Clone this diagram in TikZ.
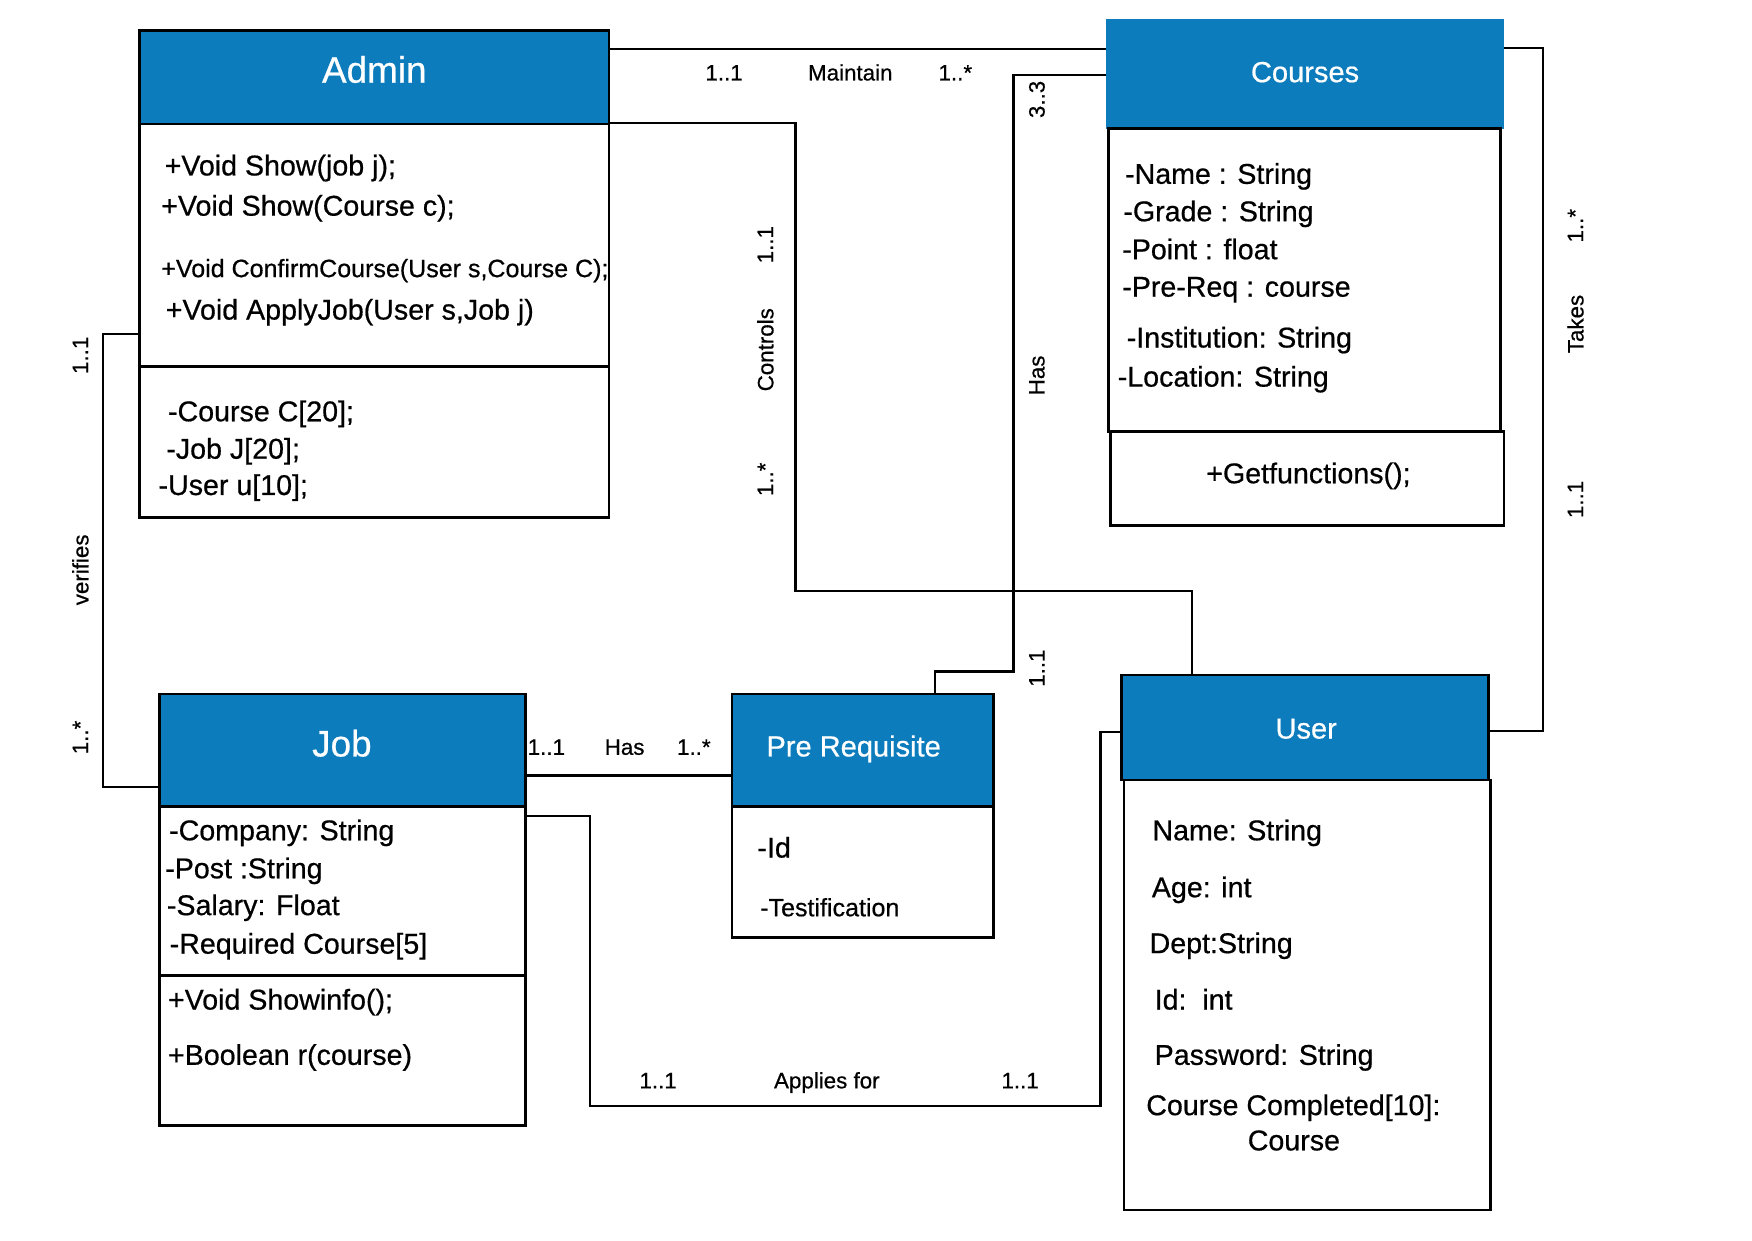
\documentclass[tikz,border=0pt]{standalone}
\usepackage{fontspec}
\setmainfont{Liberation Sans}[FakeBold=0.6]
\usetikzlibrary{fit}
\definecolor{hdr}{RGB}{13,124,189}
\begin{document}
\begin{tikzpicture}[x=0.5pt,y=-0.5pt,
  box/.style={draw=black, line width=1.2pt, inner sep=0pt},
  hdrbox/.style={box, fill=hdr},
  conn/.style={draw=black, line width=1pt},
  txt/.style={inner sep=0pt, anchor=base west, font=\fontsize{12.8pt}{15pt}\selectfont},
  smalltxt/.style={txt, font=\fontsize{11.2pt}{13pt}\selectfont},
  ctxt/.style={txt, anchor=base},
  lbl/.style={inner sep=0pt, anchor=base, font=\fontsize{10pt}{12pt}\selectfont},
  vlbl/.style={inner sep=0pt, rotate=90, font=\fontsize{10pt}{12pt}\selectfont},
  bigtitle/.style={inner sep=0pt, anchor=base, text=white, font=\fontsize{16.5pt}{20pt}\selectfont},
  title/.style={inner sep=0pt, anchor=base, text=white, font=\fontsize{13pt}{16pt}\selectfont}
]
\useasboundingbox (0,0) rectangle (1568,1110);

% ---------- Admin ----------
\node[hdrbox, fit={(125,27) (545,111)}] (adminH) {};
\node[box, fit={(125,111) (545,328)}] (adminM) {};
\node[box, fit={(125,328) (545,463)}] (adminA) {};
\node[bigtitle] (adminT) at (335,74) {Admin};
\node[txt] (am1) at (147,157) {+Void Show(job j);};
\node[txt] (am2) at (144,193) {+Void Show(Course c);};
\node[smalltxt] (am3) at (144,248) {+Void ConfirmCourse(User s,Course C);};
\node[txt] (am4) at (148,286) {+Void ApplyJob(User s,Job j)};
\node[txt] (aa1) at (150,377) {-Course C[20];};
\node[txt] (aa2) at (148.5,410.5) {-Job J[20];};
\node[txt] (aa3) at (141.5,443) {-User u[10];};

% ---------- Courses ----------
\node[inner sep=0pt, fill=hdr, fit={(990,17) (1346,115)}] (coursesH) {};
\node[box, fit={(992,115) (1343,386)}] (coursesA) {};
\node[box, fit={(994,386) (1346,470)}] (coursesM) {};
\node[title] (coursesT) at (1168,73.5) {Courses};
\node[txt] (ca1) at (1006.5,164.5) {-Name : String};
\node[txt] (ca2) at (1005,198) {-Grade : String};
\node[txt] (ca3) at (1004,232) {-Point : float};
\node[txt] (ca4) at (1004,265.5) {-Pre-Req : course};
\node[txt] (ca5) at (1008,311) {-Institution: String};
\node[txt] (ca6) at (1000,346) {-Location: String};
\node[ctxt] (cm1) at (1171,432.5) {+Getfunctions();};

% ---------- Job ----------
\node[hdrbox, fit={(143,621) (470,722)}] (jobH) {};
\node[box, fit={(143,722) (470,873)}] (jobA) {};
\node[box, fit={(143,873) (470,1007)}] (jobM) {};
\node[bigtitle] (jobT) at (306,677) {Job};
\node[txt] (ja1) at (151,752) {-Company: String};
\node[txt] (ja2) at (147.5,786) {-Post :String};
\node[txt] (ja3) at (149,819) {-Salary: Float};
\node[txt] (ja4) at (151.5,853.5) {-Required Course[5]};
\node[txt] (jm1) at (150,903.5) {+Void Showinfo();};
\node[txt] (jm2) at (150,953) {+Boolean r(course)};

% ---------- Pre Requisite ----------
\node[hdrbox, fit={(655,621) (889,722)}] (preH) {};
\node[box, fit={(655,722) (889,839)}] (preA) {};
\node[title] (preT) at (764,677) {Pre Requisite};
\node[txt] (pa1) at (677.5,767.5) {-Id};
\node[smalltxt] (pa2) at (680,820) {-Testification};

% ---------- User ----------
\node[hdrbox, fit={(1004,604) (1332,698)}] (userH) {};
\node[box, fit={(1006,698) (1334,1083)}] (userA) {};
\node[title] (userT) at (1169,661) {User};
\node[txt] (ua1) at (1031,752) {Name: String};
\node[txt] (ua2) at (1030.5,803) {Age: int};
\node[txt] (ua3) at (1028.5,853) {Dept:String};
\node[txt] (ua4) at (1033,903.5) {Id:\ \ int};
\node[txt] (ua5) at (1033,953) {Password: String};
\node[txt] (ua6) at (1025.5,998) {Course Completed[10]:};
\node[ctxt] (ua7) at (1158,1029.5) {Course};

% ---------- bend points ----------
\coordinate (tk) at (1381,654);
\coordinate (ct1) at (712,529);
\coordinate (ct2) at (1067,529);
\coordinate (hs1) at (907,601);
\coordinate (hs2) at (837,601);
\coordinate (vf) at (92,704);
\coordinate (ap1) at (528,990);
\coordinate (ap2) at (985,655);

% ---------- connectors ----------
% Maintain
\draw[conn] (adminH.east |- 0,44) -- (coursesH.west |- 0,44);
% Takes
\draw[conn] (coursesH.east |- 0,43) -| (tk) -- (userH.east |- tk);
% Controls
\draw[conn] (adminM.north east) -| (ct1) -- (ct2) -- (userH.north -| ct2);
% Has (Courses - Pre Requisite)
\draw[conn] (coursesH.west |- 0,67) -| (hs1) -- (hs2) -- (preH.north -| hs2);
% verifies
\draw[conn] (adminM.west |- 0,299) -| (vf) -- (jobH.west |- vf);
% Has (Job - Pre Requisite)
\draw[conn] (jobH.east |- 0,694) -- (preH.west |- 0,694);
% Applies for
\draw[conn] (jobA.east |- 0,730) -| (ap1) -| (ap2) -- (userH.west |- ap2);

% ---------- labels ----------
\node[lbl] (lm1) at (648,72) {1..1};
\node[lbl] (lm2) at (761,72) {Maintain};
\node[lbl] (lm3) at (855,72) {1..*};

\node[vlbl] (lh1) at (928,89) {3..3};
\node[vlbl] (lh2) at (928,336) {Has};
\node[vlbl] (lh3) at (928,598) {1..1};

\node[vlbl] (lt1) at (1410,202) {1..*};
\node[vlbl] (lt2) at (1410,290) {Takes};
\node[vlbl] (lt3) at (1410,447) {1..1};

\node[vlbl] (lc1) at (685,219) {1..1};
\node[vlbl] (lc2) at (685,313) {Controls};
\node[vlbl] (lc3) at (685,429) {1..*};

\node[vlbl] (lv1) at (72,318) {1..1};
\node[vlbl] (lv2) at (72,510) {verifies};
\node[vlbl] (lv3) at (72,660) {1..*};

\node[lbl] (lj1) at (489,675.5) {1..1};
\node[lbl] (lj2) at (559,675.5) {Has};
\node[lbl] (lj3) at (621,675.5) {1..*};

\node[lbl] (la1) at (589,974) {1..1};
\node[lbl] (la2) at (740,974) {Applies for};
\node[lbl] (la3) at (913,974) {1..1};
\end{tikzpicture}
\end{document}
